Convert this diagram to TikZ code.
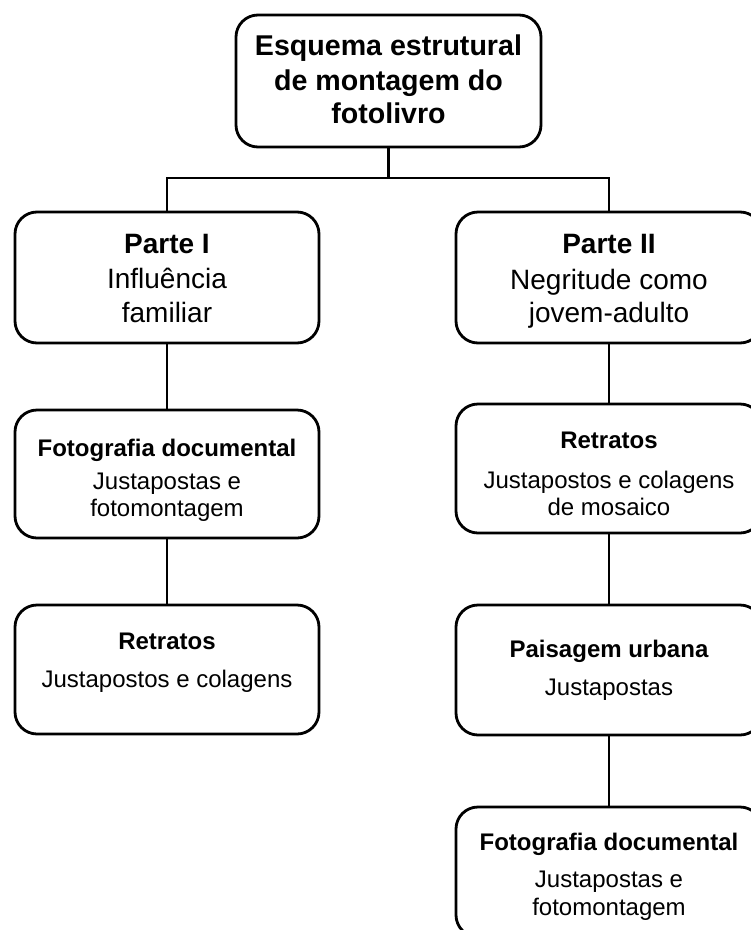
\documentclass[tikz,border=0pt]{standalone}
\usepackage{fontspec}
\setmainfont{Liberation Sans}
\begin{document}
\begin{tikzpicture}[x=1pt,y=-1pt,
  box/.style={draw=black, line width=2.8pt, rounded corners=22pt, fill=white, inner sep=0pt},
  conn/.style={draw=black, line width=2.8pt, line join=miter},
  tbig/.style={anchor=base, inner sep=0pt, font=\bfseries\fontsize{28.6}{34}\selectfont},
  thb/.style={anchor=base, inner sep=0pt, font=\bfseries\fontsize{28}{33}\selectfont},
  thr/.style={anchor=base, inner sep=0pt, font=\fontsize{28}{33}\selectfont},
  tsb/.style={anchor=base, inner sep=0pt, font=\bfseries\fontsize{24}{28}\selectfont},
  tsr/.style={anchor=base, inner sep=0pt, font=\fontsize{24}{28}\selectfont}]
\useasboundingbox (0,0) rectangle (751,930);
\clip (0,0) rectangle (751,930);
\fill[white] (0,0) rectangle (751,930);

% boxes
\node[box, minimum width=305pt, minimum height=132pt] (top) at (388.5,81) {};
\node[box, minimum width=304pt, minimum height=131pt] (p1) at (167,277.5) {};
\node[box, minimum width=306pt, minimum height=131pt] (p2) at (609,277.5) {};
\node[box, minimum width=304pt, minimum height=128pt] (lf) at (167,474) {};
\node[box, minimum width=304pt, minimum height=129pt] (lr) at (167,669.5) {};
\node[box, minimum width=306pt, minimum height=129pt] (rr) at (609,468.5) {};
\node[box, minimum width=306pt, minimum height=130pt] (rp) at (609,670) {};
\node[box, minimum width=306pt, minimum height=130pt] (rf) at (609,872) {};

% connectors
\coordinate (j) at (388.5,178);
\draw[conn] (top.south) -- (j);
\draw[conn] (p1.north) -- (p1.north |- j) -- (p2.north |- j) -- (p2.north);
\draw[conn] (p1.south) -- (lf.north);
\draw[conn] (lf.south) -- (lr.north);
\draw[conn] (p2.south) -- (rr.north);
\draw[conn] (rr.south) -- (rp.north);
\draw[conn] (rp.south) -- (rf.north);

% texts
\node[tbig] (t1) at (388.5,55) {Esquema estrutural};
\node[tbig] (t2) at (388.5,90) {de montagem do};
\node[tbig] (t3) at (388.5,123) {fotolivro};

\node[thb] (p1a) at (167,253) {Parte I};
\node[thr] (p1b) at (167,288) {Influência};
\node[thr] (p1c) at (167,322) {familiar};

\node[thb] (p2a) at (609,253) {Parte II};
\node[thr] (p2b) at (609,289) {Negritude como};
\node[thr] (p2c) at (609,322) {jovem-adulto};

\node[tsb] (lfa) at (167,456) {Fotografia documental};
\node[tsr] (lfb) at (167,489) {Justapostas e};
\node[tsr] (lfc) at (167,516) {fotomontagem};

\node[tsb] (lra) at (167,649) {Retratos};
\node[tsr] (lrb) at (167,687) {Justapostos e colagens};

\node[tsb] (rra) at (609,448) {Retratos};
\node[tsr] (rrb) at (609,488) {Justapostos e colagens};
\node[tsr] (rrc) at (609,515) {de mosaico};

\node[tsb] (rpa) at (609,657) {Paisagem urbana};
\node[tsr] (rpb) at (609,695) {Justapostas};

\node[tsb] (rfa) at (609,850) {Fotografia documental};
\node[tsr] (rfb) at (609,887) {Justapostas e};
\node[tsr] (rfc) at (609,915) {fotomontagem};
\end{tikzpicture}
\end{document}
